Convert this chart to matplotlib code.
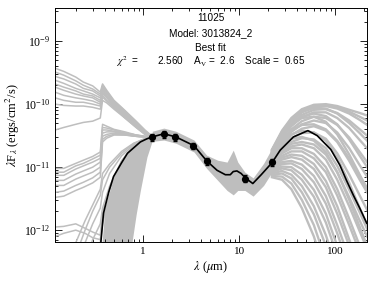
import numpy as np
import matplotlib
matplotlib.use('Agg')
import matplotlib.pyplot as plt
from matplotlib.ticker import NullFormatter

# photometry (um, ergs/cm^2/s)
phot_wl = [1.235, 1.662, 2.159, 3.35, 4.6, 11.56, 22.08]
phot_flux = [2.96e-11, 3.34e-11, 2.96e-11, 2.18e-11, 1.25e-11, 6.6e-12, 1.19e-11]
phot_err = [0.35e-11, 0.4e-11, 0.35e-11, 0.25e-11, 0.15e-11, 0.8e-12, 0.14e-11]

# best fit model, log10(lambda F_lambda)
best_wl = [0.355, 0.366, 0.389, 0.44, 0.494, 0.6, 0.69, 0.94, 1.1, 1.25, 1.65, 2.2, 3.4, 4.6,
           5.9, 7.2, 8.1, 8.7, 9.5, 10.5, 11.6, 13.9, 17, 22, 26.8, 36.8, 52, 65, 90, 112,
           131, 155, 180, 213]
best_log = [-12.6, -12.17, -11.73, -11.40, -11.15, -10.93, -10.78, -10.60, -10.55, -10.52, -10.47,
            -10.52, -10.66, -10.90, -11.05, -11.12, -11.12, -11.07, -11.06, -11.10, -11.17,
            -11.26, -11.12, -10.93, -10.73, -10.52, -10.42, -10.50, -10.72, -10.97, -11.21,
            -11.45, -11.65, -11.89]

# other good fits: short wavelength part, bright UV models
wl_short = [0.122, 0.15, 0.2, 0.24, 0.3, 0.36, 0.38, 0.42, 0.5, 0.65, 0.85, 1.05, 1.25]
uv_models = [
    [-9.43, -9.48, -9.57, -9.65, -9.71, -9.81, -9.68, -9.78, -9.94, -10.10, -10.27, -10.41, -10.51],
    [-9.49, -9.54, -9.63, -9.70, -9.76, -9.84, -9.71, -9.81, -9.95, -10.11, -10.29, -10.43, -10.51],
    [-9.56, -9.60, -9.68, -9.75, -9.79, -9.87, -9.73, -9.83, -9.97, -10.13, -10.30, -10.43, -10.52],
    [-9.62, -9.67, -9.75, -9.79, -9.84, -9.90, -9.76, -9.86, -9.98, -10.14, -10.30, -10.44, -10.52],
    [-9.68, -9.73, -9.79, -9.84, -9.87, -9.94, -9.78, -9.87, -10.00, -10.16, -10.32, -10.44, -10.52],
    [-9.73, -9.78, -9.84, -9.87, -9.90, -9.97, -9.81, -9.89, -10.02, -10.17, -10.33, -10.46, -10.52],
    [-9.81, -9.86, -9.90, -9.92, -9.95, -10.00, -9.83, -9.90, -10.03, -10.19, -10.33, -10.46, -10.52],
    [-9.90, -9.94, -9.97, -9.97, -10.00, -10.03, -9.86, -9.94, -10.05, -10.21, -10.35, -10.46, -10.54],
    [-10.00, -10.02, -10.03, -10.03, -10.05, -10.08, -9.89, -9.95, -10.06, -10.22, -10.37, -10.48, -10.54],
    [-10.41, -10.37, -10.32, -10.29, -10.27, -10.22, -9.94, -9.98, -10.08, -10.22, -10.37, -10.48, -10.54],
]
# fainter UV models
low_models = [
    [-11.02, -11.02, -10.94, -10.89, -10.83, -10.76, -10.32, -10.35, -10.40, -10.44, -10.49, -10.51, -10.52],
    [-11.08, -11.08, -10.98, -10.94, -10.87, -10.81, -10.37, -10.38, -10.41, -10.46, -10.49, -10.51, -10.52],
    [-11.13, -11.13, -11.03, -10.98, -10.92, -10.86, -10.41, -10.41, -10.43, -10.46, -10.49, -10.52, -10.52],
    [-11.21, -11.21, -11.11, -11.06, -11.00, -10.92, -10.46, -10.44, -10.44, -10.48, -10.51, -10.52, -10.52],
    [-11.29, -11.29, -11.19, -11.14, -11.08, -11.00, -10.51, -10.48, -10.46, -10.48, -10.51, -10.52, -10.52],
    [-11.40, -11.38, -11.29, -11.24, -11.17, -11.08, -10.56, -10.51, -10.48, -10.49, -10.51, -10.52, -10.54],
    [-11.48, -11.46, -11.37, -11.32, -11.25, -11.16, -10.60, -10.54, -10.49, -10.49, -10.51, -10.52, -10.54],
]
# extincted models rising from the bottom
wl_rise = [0.122, 0.15, 0.2, 0.25, 0.3, 0.36, 0.38, 0.45, 0.6, 0.8, 1.0, 1.25]
rise_models = [
    [-11.95, -11.94, -11.90, -11.97, -12.03, -12.08, -11.70, -11.35, -10.90, -10.65, -10.57, -10.52],
    [-12.10, -12.05, -12.00, -12.05, -12.12, -12.15, -11.85, -11.50, -11.00, -10.70, -10.58, -10.52],
    [-12.6, -12.4, -12.2, -11.85, -11.6, -11.35, -11.1, -10.95, -10.75, -10.62, -10.56, -10.52],
    [-13.0, -12.8, -12.4, -12.0, -11.7, -11.45, -11.2, -11.0, -10.78, -10.63, -10.56, -10.52],
    [-13.0, -13.0, -12.6, -12.2, -11.9, -11.65, -11.4, -11.1, -10.82, -10.65, -10.57, -10.52],
    [-13.0, -13.0, -13.0, -12.5, -12.15, -11.9, -11.65, -11.3, -10.9, -10.68, -10.58, -10.53],
    [-13.0, -13.0, -13.0, -12.9, -12.5, -12.2, -11.9, -11.45, -11.0, -10.72, -10.6, -10.53],
]
# dense band of heavily extincted models
wl_band = [0.36, 0.38, 0.4, 0.5, 0.6, 0.7, 0.77, 0.85, 0.94, 1.1, 1.25]
band_hi = [-12.6, -12.1, -11.7, -11.12, -10.92, -10.76, -10.70, -10.64, -10.58, -10.53, -10.50]
band_lo = [-13.0, -13.0, -13.0, -13.0, -12.8, -12.5, -12.19, -11.75, -11.37, -10.84, -10.58]

# near / mid infrared spread
wl_mid = [1.25, 1.65, 2.2, 3.4, 4.6, 6.0, 7.5, 8.7, 9.7, 11.5, 14, 18, 22]
mid_hi = [-10.43, -10.38, -10.43, -10.57, -10.81, -10.89, -10.92, -10.73, -10.92, -11.08, -11.17, -10.94, -10.70]
mid_lo = [-10.59, -10.57, -10.62, -10.76, -11.02, -11.21, -11.37, -11.44, -11.37, -11.37, -11.46, -11.29, -11.08]

# far infrared part of the models
wl_far = [22, 28, 35, 45, 60, 80, 105, 140, 180, 215]
far_models = [
    [-10.72, -10.42, -10.22, -10.08, -10.01, -10.00, -10.03, -10.09, -10.14, -10.18],
    [-10.73, -10.44, -10.24, -10.10, -10.03, -10.02, -10.05, -10.12, -10.20, -10.26],
    [-10.74, -10.48, -10.28, -10.13, -10.05, -10.03, -10.07, -10.15, -10.25, -10.33],
    [-10.75, -10.45, -10.25, -10.12, -10.06, -10.07, -10.15, -10.30, -10.46, -10.58],
    [-10.76, -10.50, -10.31, -10.17, -10.09, -10.08, -10.14, -10.26, -10.40, -10.50],
    [-10.77, -10.52, -10.33, -10.20, -10.15, -10.19, -10.32, -10.56, -10.82, -11.00],
    [-10.78, -10.53, -10.35, -10.21, -10.13, -10.13, -10.22, -10.38, -10.57, -10.70],
    [-10.79, -10.50, -10.32, -10.22, -10.20, -10.28, -10.48, -10.80, -11.12, -11.35],
    [-10.80, -10.57, -10.40, -10.27, -10.20, -10.22, -10.33, -10.53, -10.76, -10.92],
    [-10.82, -10.60, -10.44, -10.32, -10.26, -10.30, -10.45, -10.70, -10.97, -11.15],
    [-10.83, -10.58, -10.42, -10.33, -10.32, -10.40, -10.58, -10.86, -11.14, -11.33],
    [-10.85, -10.64, -10.49, -10.39, -10.35, -10.42, -10.60, -10.90, -11.20, -11.40],
    [-10.86, -10.62, -10.48, -10.42, -10.45, -10.58, -10.85, -11.25, -11.65, -11.92],
    [-10.88, -10.68, -10.54, -10.46, -10.45, -10.55, -10.78, -11.12, -11.45, -11.68],
    [-10.89, -10.66, -10.55, -10.52, -10.58, -10.76, -11.08, -11.52, -11.95, -12.25],
    [-10.90, -10.72, -10.60, -10.54, -10.56, -10.70, -10.98, -11.36, -11.72, -11.98],
    [-10.92, -10.74, -10.63, -10.60, -10.64, -10.80, -11.08, -11.48, -11.85, -12.10],
    [-10.93, -10.77, -10.67, -10.64, -10.70, -10.88, -11.20, -11.62, -12.02, -12.30],
    [-10.95, -10.78, -10.70, -10.70, -10.79, -11.00, -11.35, -11.82, -12.25, -12.55],
    [-10.96, -10.82, -10.75, -10.75, -10.86, -11.08, -11.45, -11.92, -12.35, -12.60],
    [-10.98, -10.85, -10.80, -10.82, -10.95, -11.22, -11.62, -12.15, -12.60, -12.90],
    [-11.00, -10.88, -10.84, -10.88, -11.03, -11.32, -11.74, -12.25, -12.70, -13.00],
    [-11.02, -10.92, -10.90, -10.96, -11.14, -11.46, -11.92, -12.45, -12.90, -13.00],
    [-11.04, -10.95, -10.94, -11.03, -11.24, -11.58, -12.05, -12.60, -13.00, -13.00],
    [-11.06, -10.99, -11.00, -11.12, -11.36, -11.74, -12.25, -12.85, -13.00, -13.00],
    [-11.08, -11.02, -11.05, -11.20, -11.47, -11.88, -12.40, -13.00, -13.00, -13.00],
    [-11.10, -11.06, -11.12, -11.30, -11.62, -12.08, -12.62, -13.00, -13.00, -13.00],
    [-11.12, -11.10, -11.18, -11.40, -11.75, -12.25, -12.80, -13.00, -13.00, -13.00],
    [-11.14, -11.15, -11.26, -11.52, -11.92, -12.48, -13.00, -13.00, -13.00, -13.00],
    [-11.16, -11.20, -11.35, -11.65, -12.10, -12.70, -13.00, -13.00, -13.00, -13.00],
]

ytick_vals = [1e-12, 1e-11, 1e-10, 1e-9]
xtick_vals = [1, 10, 100]
xtick_labels = ['1', '10', '100']

plt.rcParams['font.family'] = ['Liberation Serif', 'DejaVu Serif']
plt.rcParams['mathtext.fontset'] = 'stix'

grey = '#bebebe'

fig = plt.figure(figsize=(3.74, 2.81), dpi=100)
ax = fig.add_axes([0.147, 0.139, 0.834, 0.832])

def pw(vals):
    return 10 ** np.array(vals)

ax.fill_between(wl_band, pw(band_lo), pw(band_hi), color=grey, lw=0)
ax.fill_between(wl_mid, pw(mid_lo), pw(mid_hi), color=grey, lw=0)
for m in uv_models + low_models:
    ax.plot(wl_short, pw(m), color=grey, lw=1.1)
for m in rise_models:
    ax.plot(wl_rise, pw(m), color=grey, lw=1.1)
for m in far_models:
    ax.plot(wl_far, pw(m), color=grey, lw=1.7)

ax.plot(best_wl, pw(best_log), color='black', lw=1.2)
ax.errorbar(phot_wl, phot_flux, yerr=phot_err, fmt='o', color='black', ms=4.2,
            capsize=1.5, elinewidth=0.8, zorder=5)

ax.set_xscale('log')
ax.set_yscale('log')
ax.set_xlim(0.1216, 213.7)
ax.set_ylim(6.5e-13, 3.34e-9)
ax.set_xticks(xtick_vals)
ax.set_xticklabels(xtick_labels)
ax.set_yticks(ytick_vals)
ax.xaxis.set_minor_formatter(NullFormatter())
ax.yaxis.set_minor_formatter(NullFormatter())
ax.tick_params(which='both', direction='in', top=True, right=True, width=0.6)
ax.tick_params(axis='x', labelsize=8)
ax.tick_params(axis='y', labelsize=8.5)
ax.tick_params(which='major', length=5)
ax.tick_params(which='minor', length=2.5)
for s in ax.spines.values():
    s.set_linewidth(0.7)

ax.set_xlabel(r'$\lambda$ ($\mu$m)', fontsize=9, labelpad=2)
ax.set_ylabel(r'$\lambda$F$_\lambda$ (ergs/cm$^2$/s)', fontsize=9, labelpad=1)

sans = ['Liberation Sans', 'DejaVu Sans']
fig.text(0.564, 1 - 18.3 / 281, '11025', ha='center', va='center', fontsize=7.2, family=sans)
fig.text(0.564, 1 - 33.3 / 281, 'Model: 3013824_2', ha='center', va='center', fontsize=7.2, family=sans)
fig.text(0.564, 1 - 47.7 / 281, 'Best fit', ha='center', va='center', fontsize=7.2, family=sans)
fig.text(0.564, 1 - 61.7 / 281, r'$\chi^2$  =       2.560    A$_\mathrm{V}$ =  2.6    Scale =  0.65',
         ha='center', va='center', fontsize=7.2, family=sans)

fig.savefig('out.png', dpi=100)
